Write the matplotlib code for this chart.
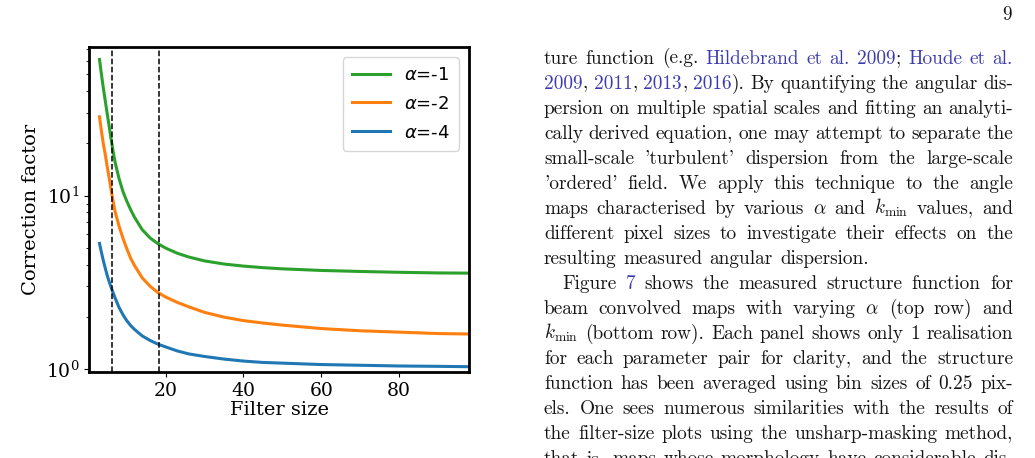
import numpy as np
import matplotlib
matplotlib.use('Agg')
import matplotlib.pyplot as plt

# correction factor vs filter size
filter_size = [3, 3.5, 4, 4.5, 5, 5.5, 6, 6.5, 7, 8, 9, 10, 11, 12, 14, 16, 18,
               20, 23, 26, 30, 35, 40, 45, 50, 60, 70, 80, 90, 98]
corr_a1 = [61.0, 50.0, 41.5, 35.0, 29.5, 25.0, 21.0, 18.0, 15.6, 12.6, 10.6, 9.3,
           8.3, 7.5, 6.35, 5.7, 5.28, 4.98, 4.65, 4.42, 4.20, 4.03, 3.92, 3.84,
           3.78, 3.70, 3.65, 3.61, 3.58, 3.57]
corr_a2 = [28.5, 23.5, 19.8, 17.2, 14.6, 12.6, 10.7, 9.3, 8.1, 6.7, 5.7, 4.95,
           4.35, 3.95, 3.35, 3.00, 2.76, 2.60, 2.42, 2.28, 2.12, 1.99, 1.90, 1.84,
           1.79, 1.71, 1.66, 1.63, 1.60, 1.59]
corr_a4 = [5.30, 4.70, 4.20, 3.80, 3.45, 3.18, 2.95, 2.75, 2.57, 2.27, 2.06, 1.90,
           1.78, 1.69, 1.55, 1.46, 1.39, 1.34, 1.27, 1.22, 1.18, 1.14, 1.11, 1.09,
           1.08, 1.06, 1.05, 1.04, 1.035, 1.03]
vlines = [6.3, 18.2]
labels = [r'$\alpha$=-1', r'$\alpha$=-2', r'$\alpha$=-4']

# page text next to the figure ([...] = citation link)
body = [
    "ture function (e.g. [Hildebrand et al. 2009]; [Houde et al.]",
    "[2009], [2011], [2013], [2016]). By quantifying the angular dis-",
    "persion on multiple spatial scales and fitting an analyti-",
    "cally derived equation, one may attempt to separate the",
    "small-scale 'turbulent' dispersion from the large-scale",
    "'ordered' field. We apply this technique to the angle",
    r"maps characterised by various $\alpha$ and $k_\mathrm{min}$ values, and",
    "different pixel sizes to investigate their effects on the",
    "resulting measured angular dispersion.",
    "Figure [7] shows the measured structure function for",
    r"beam convolved maps with varying $\alpha$ (top row) and",
    r"$k_\mathrm{min}$ (bottom row). Each panel shows only 1 realisation",
    "for each parameter pair for clarity, and the structure",
    "function has been averaged using bin sizes of 0.25 pix-",
    "els. One sees numerous similarities with the results of",
    "the filter-size plots using the unsharp-masking method,",
    "that is, maps whose morphology have considerable dis-",
]
ragged = [8]      # last line of a paragraph
indented = [9]    # first line of a paragraph

W, H = 1035, 458
plt.rcParams['font.family'] = 'serif'
plt.rcParams['font.serif'] = ['DejaVu Serif']
plt.rcParams['mathtext.fontset'] = 'dejavuserif'

fig = plt.figure(figsize=(W / 100, H / 100), dpi=100)
ax = fig.add_axes([89 / W, 1 - 372 / H, 380 / W, 325 / H])

ax.plot(filter_size, corr_a1, color='tab:green', lw=2.2, label=labels[0])
ax.plot(filter_size, corr_a2, color='tab:orange', lw=2.2, label=labels[1])
ax.plot(filter_size, corr_a4, color='tab:blue', lw=2.2, label=labels[2])
for xv in vlines:
    ax.axvline(xv, color='k', ls='--', lw=1.1)

ax.set_yscale('log')
ax.set_xlim(0.3, 98)
ax.set_ylim(0.96, 72)
ax.set_xticks([20, 40, 60, 80])
ax.tick_params(labelsize=13.5)
ax.set_xlabel('Filter size', fontsize=14, labelpad=1)
ax.set_ylabel('Correction factor', fontsize=14, labelpad=4)
for sp in ax.spines.values():
    sp.set_linewidth(2)

leg = ax.legend(loc='upper right', prop={'family': 'DejaVu Sans', 'size': 13},
                handlelength=2.1, borderaxespad=0.55, labelspacing=0.6,
                borderpad=0.5)
for t in leg.get_texts():
    t.set_math_fontfamily('dejavusans')

# ---- page text, set word by word so lines are justified
renderer = fig.canvas.get_renderer()
x0, x1 = 544, 1013
base0, step = 63.5, 25.05
ink = '#151515'
link = '#3c3cb0'


def parse(line):
    words, cur, seg, blue = [], [], '', False
    for ch in line:
        if ch in '[]':
            if seg:
                cur.append((seg, blue))
                seg = ''
            blue = ch == '['
        elif ch == ' ':
            if seg:
                cur.append((seg, blue))
                seg = ''
            if cur:
                words.append(cur)
                cur = []
        else:
            seg += ch
    if seg:
        cur.append((seg, blue))
    if cur:
        words.append(cur)
    return words


def put(x, y, s, color, fs):
    return fig.text(x / W, 1 - y / H, s, fontsize=fs, family='cmr10',
                    math_fontfamily='cm', color=color, va='baseline', ha='left')


def measure(words, fs):
    out = []
    for w in words:
        ws = []
        for s, blue in w:
            t = put(0, -100, s, ink, fs)
            ws.append(t.get_window_extent(renderer).width)
            t.remove()
        out.append(ws)
    return out


# pick the body size so that justified lines get TeX-like word gaps
parsed = [parse(l) for l in body]
ref_fs = 10.0
fits = []
for i, words in enumerate(parsed):
    if i in ragged:
        continue
    wsum = sum(sum(ws) for ws in measure(words, ref_fs)) / ref_fs
    left = x0 + (18 if i in indented else 0)
    fits.append((x1 - left) / (wsum + (len(words) - 1) * 0.4 * 100 / 72))
FS = float(np.median(fits))

for i, words in enumerate(parsed):
    y = base0 + step * i
    widths = measure(words, FS)
    left = x0 + (18 if i in indented else 0)
    total = sum(sum(ws) for ws in widths)
    if i in ragged:
        gap = 0.36 * FS * 100 / 72
    else:
        gap = (x1 - left - total) / (len(words) - 1)
    x = left
    for w, ws in zip(words, widths):
        for (s, blue), sw in zip(w, ws):
            put(x, y, s, link if blue else ink, FS)
            x += sw
        x += gap

fig.text(1012 / W, 1 - 19.5 / H, '9', fontsize=FS, family='cmr10',
         color=ink, ha='right', va='baseline')

fig.savefig('out.png', dpi=100)
